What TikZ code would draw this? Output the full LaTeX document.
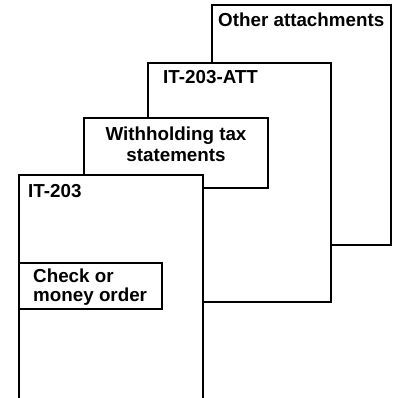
\documentclass[tikz,border=0pt]{standalone}
\usepackage{fontspec}
\setmainfont{Liberation Sans}
\begin{document}
\begin{tikzpicture}[x=1pt,y=-1pt,
  sheet/.style={draw=black,fill=white,line width=1.8pt},
  lbl/.style={inner sep=0pt,anchor=base west,font=\fontsize{18.8}{20}\selectfont\bfseries},
  lblc/.style={inner sep=0pt,anchor=base,align=center,font=\fontsize{18.8}{21}\selectfont\bfseries}]
\useasboundingbox (0,0) rectangle (394,398);
% back sheet
\draw[sheet] (212,5) rectangle (391,245);
\node[lbl] (other) at (218,27) {Other attachments};
% IT-203-ATT
\draw[sheet] (148,63) rectangle (331,302);
\node[lbl] (att) at (163,84) {IT-203-ATT};
% Withholding
\draw[sheet] (84,118) rectangle (268,188);
\node[lblc,anchor=north] (wh) at (176,126.5) {Withholding tax\\statements};
% IT-203 (open at bottom)
\fill[white] (19,175) rectangle (203,400);
\draw[sheet,fill=none] (19,400) -- (19,175) -- (203,175) -- (203,400);
\node[lbl] (it) at (28,197) {IT-203};
% Check
\draw[sheet] (19,263) rectangle (162,309);
\node[lbl,anchor=north west,align=left,font=\fontsize{18.8}{19}\selectfont\bfseries] (chk) at (33,268.5) {Check or\\money order};
\end{tikzpicture}
\end{document}
